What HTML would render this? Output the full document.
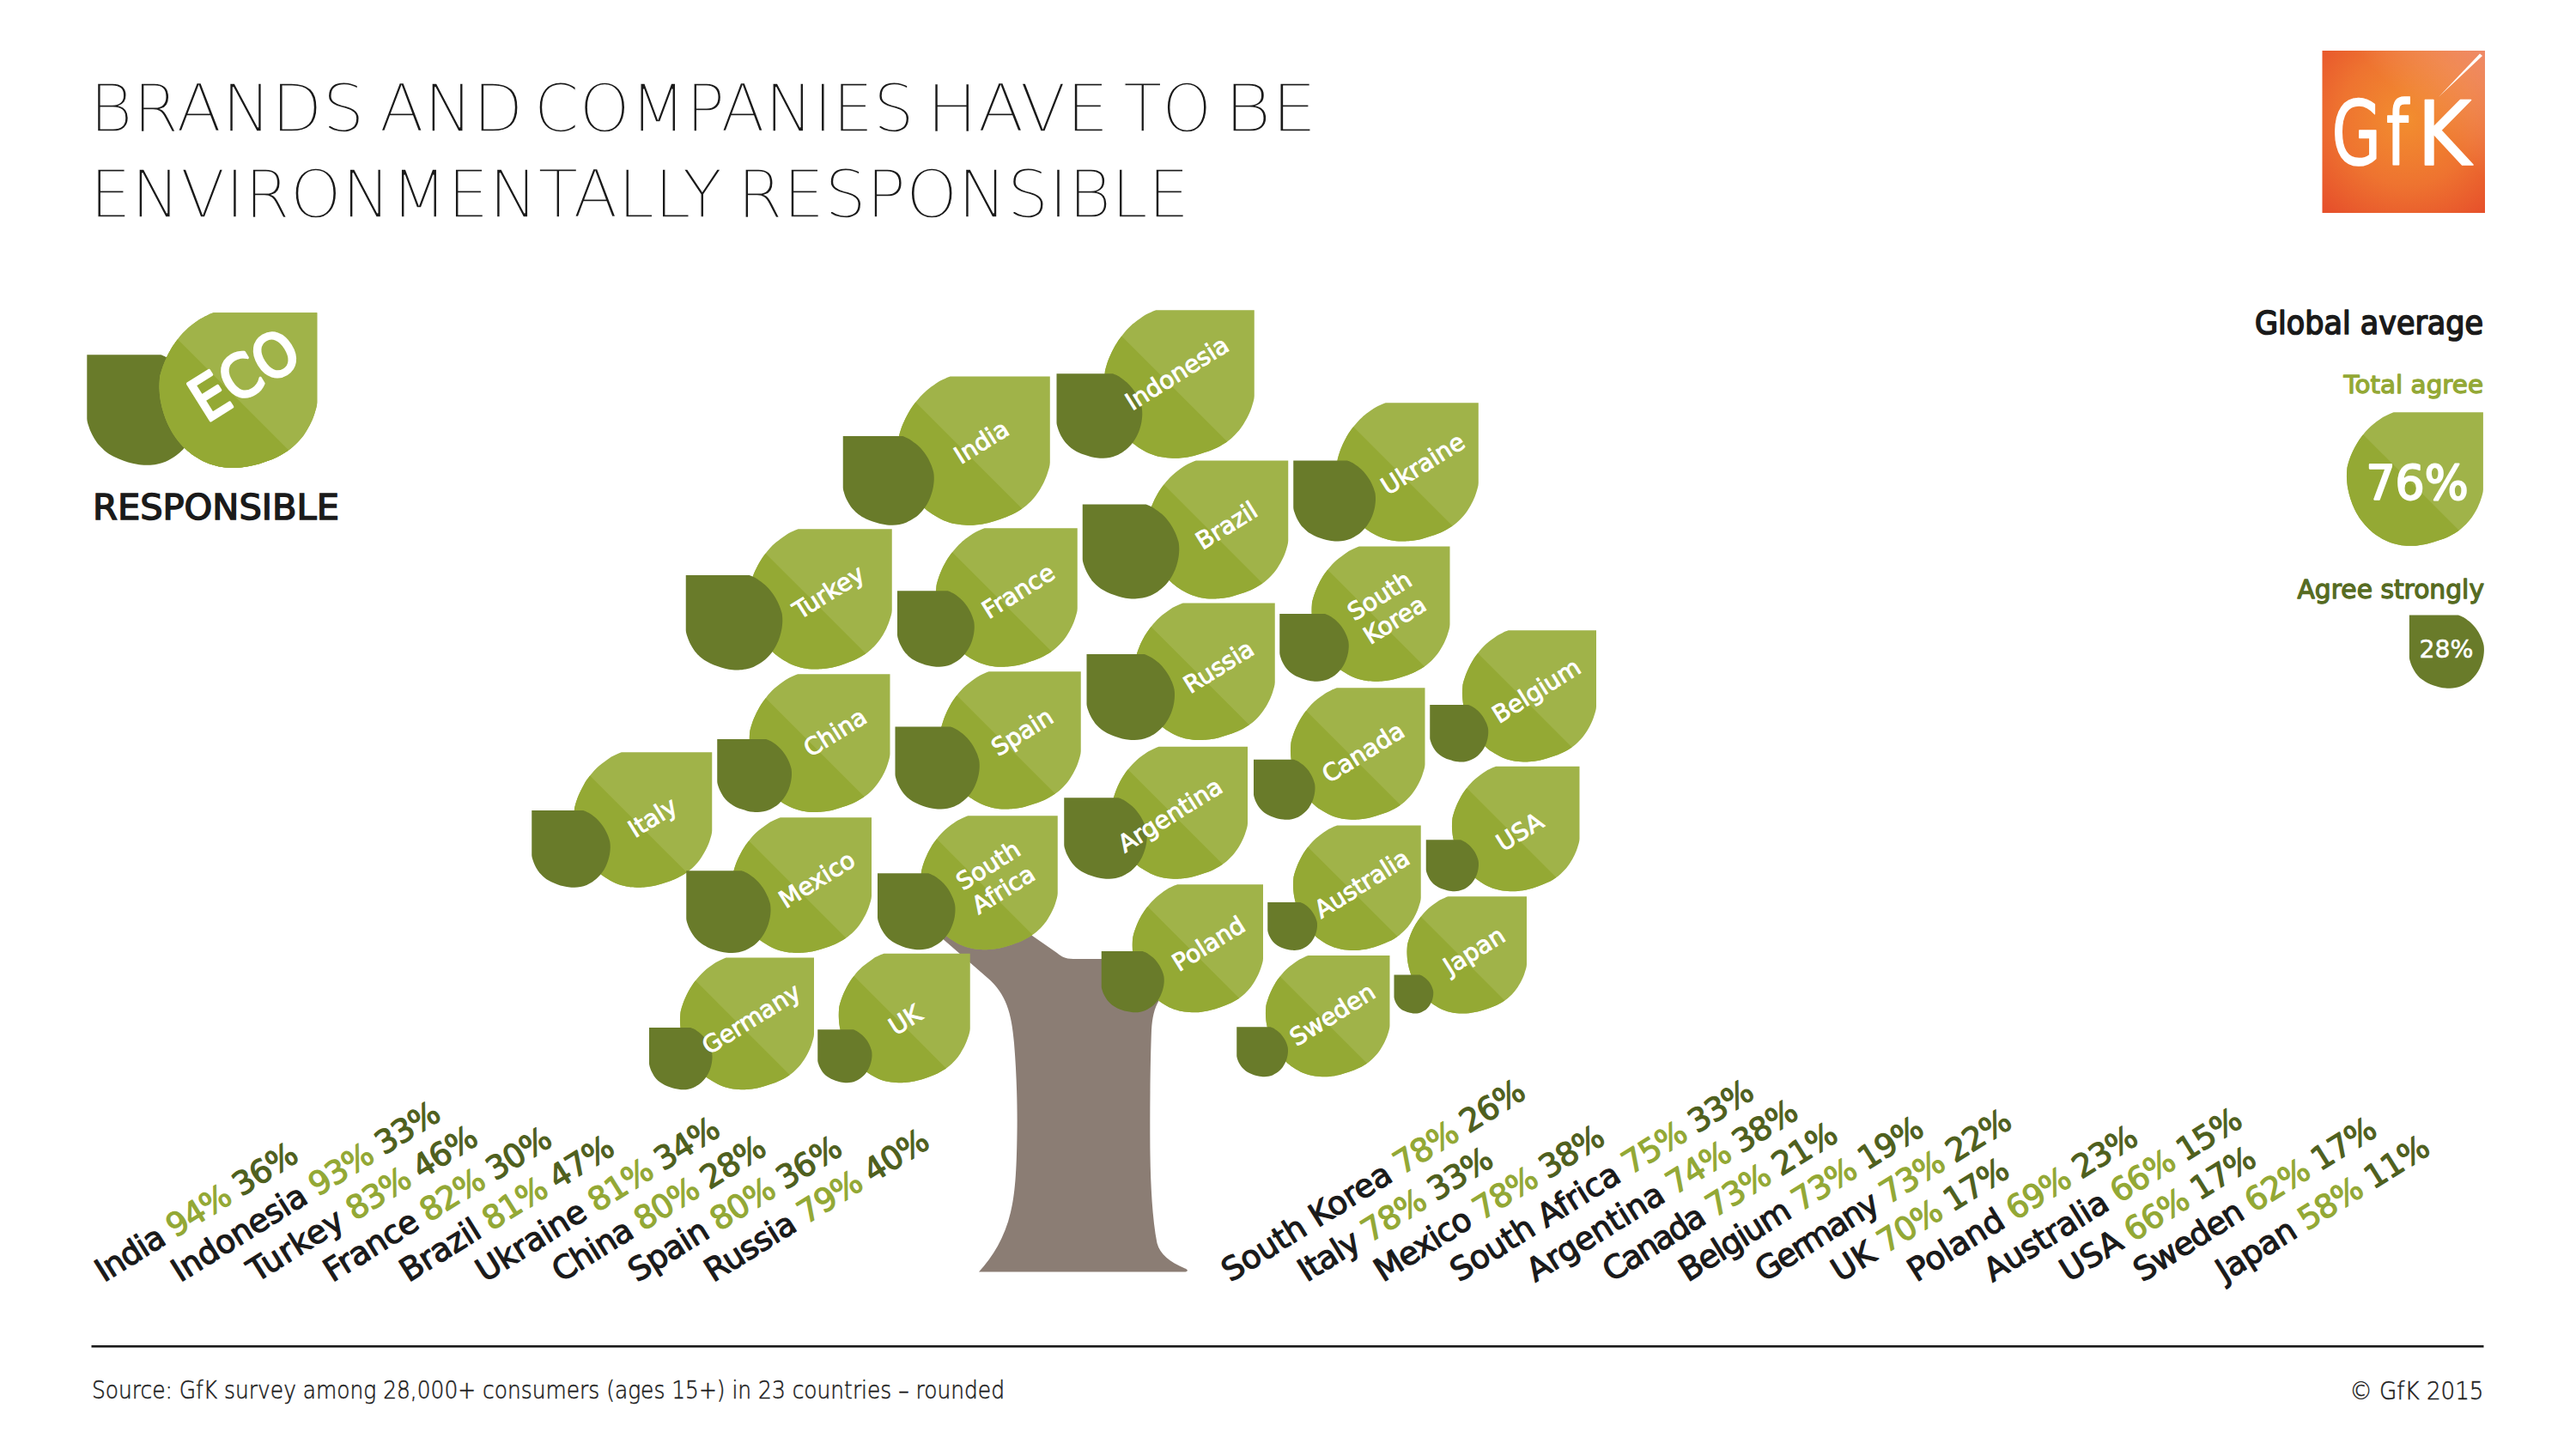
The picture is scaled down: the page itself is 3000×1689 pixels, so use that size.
<!DOCTYPE html>
<html lang="en"><head><meta charset="utf-8"><title>Brands and companies have to be environmentally responsible</title>
<style>html,body{margin:0;padding:0;background:#fff}body{width:3000px;height:1689px;overflow:hidden}svg{display:block}text{font-family:"DejaVu Sans","Liberation Sans",sans-serif}</style></head><body>
<svg width="3000" height="1689" viewBox="0 0 3000 1689">
<defs>
<radialGradient id="lg" cx="0.52" cy="0.42" r="0.75"><stop offset="0" stop-color="#f28e2f"/><stop offset="0.55" stop-color="#ee7330"/><stop offset="1" stop-color="#e6502b"/></radialGradient>
<linearGradient id="lg2" x1="0" y1="1" x2="1" y2="0"><stop offset="0.6" stop-color="#fff" stop-opacity="0"/><stop offset="1" stop-color="#fff" stop-opacity="0.28"/></linearGradient>
<path id="lf" d="M344.0,0 L1000,0 L1000,579.0 C1000.0,602.3 990.6,628.2 984.0,650.0 C977.4,671.8 970.3,689.4 960.6,710.0 C950.9,730.6 937.9,754.3 925.6,773.5 C913.3,792.7 903.0,807.5 886.8,825.3 C870.7,843.2 851.3,863.4 828.7,880.6 C806.1,897.8 777.0,915.1 751.0,928.3 C725.0,941.5 698.9,950.7 673.0,960.0 C647.1,969.3 621.4,977.8 595.5,984.0 C569.6,990.2 541.1,994.8 517.7,997.5 C494.3,1000.2 478.1,1000.9 455.0,1000.0 C431.9,999.1 404.7,997.3 379.0,992.0 C353.3,986.7 327.0,979.3 301.0,968.0 C275.0,956.7 245.8,939.3 223.0,924.0 C200.2,908.7 183.5,895.2 164.0,876.0 C144.5,856.8 123.5,833.5 106.0,809.0 C88.5,784.5 72.0,755.7 59.0,729.0 C45.9,702.3 36.2,675.7 27.7,649.0 C19.2,622.3 12.6,595.5 8.0,569.0 C3.4,542.5 1.0,513.2 0.0,490.0 C-1.0,466.8 0.6,446.3 2.0,430.0 C3.4,413.7 3.5,410.2 8.5,392.0 C13.5,373.8 21.7,346.2 32.2,320.7 C42.7,295.2 57.2,264.3 71.7,239.0 C86.2,213.7 101.2,191.6 119.0,169.0 C136.8,146.4 155.4,124.4 178.5,103.3 C201.6,82.2 237.3,56.5 257.6,42.4 C277.8,28.4 285.6,26.1 300.0,19.0 C314.4,11.9 325.7,5.7 344.0,0.0 Z"/><clipPath id="lc"><use href="#lf"/></clipPath>
</defs>
<rect width="3000" height="1689" fill="#fff"/>
<g font-family='"DejaVu Sans Light","DejaVu Sans","Liberation Sans",sans-serif' font-weight="200" font-size="76" fill="#1a1a1a" stroke="#fff" stroke-width="1.3">
<text y="153.3"><tspan x="104.1" textLength="320.6" lengthAdjust="spacingAndGlyphs">BRANDS</tspan> <tspan x="441.7" textLength="167.8" lengthAdjust="spacingAndGlyphs">AND</tspan> <tspan x="621.8" textLength="443.0" lengthAdjust="spacingAndGlyphs">COMPANIES</tspan> <tspan x="1079.1" textLength="212.4" lengthAdjust="spacingAndGlyphs">HAVE</tspan> <tspan x="1308.3" textLength="102.9" lengthAdjust="spacingAndGlyphs">TO</tspan> <tspan x="1425.4" textLength="108.3" lengthAdjust="spacingAndGlyphs">BE</tspan></text>
<text y="253.3"><tspan x="104.5" textLength="736.6" lengthAdjust="spacingAndGlyphs">ENVIRONMENTALLY</tspan> <tspan x="858.5" textLength="526.7" lengthAdjust="spacingAndGlyphs">RESPONSIBLE</tspan></text>
</g>
<g>
<rect x="2704.5" y="59" width="189.5" height="189" fill="url(#lg)"/>
<rect x="2704.5" y="59" width="189.5" height="189" fill="url(#lg2)"/>
<path d="M2840,113 L2888,62.5 L2891,65 Z" fill="#fff"/>
<text y="191.5" font-size="103" fill="#fff" stroke="#fff" stroke-width="1.6" stroke-linejoin="round"><tspan x="2715.5" textLength="57.5" lengthAdjust="spacingAndGlyphs">G</tspan><tspan x="2779" textLength="26" lengthAdjust="spacingAndGlyphs">f</tspan><tspan x="2815" textLength="63" lengthAdjust="spacingAndGlyphs">K</tspan></text>
</g>
<path fill="#8b7d74" d="M1080,1078 L1150,1139 C1172,1158 1178,1180 1181,1215 C1184,1250 1185,1290 1184.5,1320 C1184,1365 1182,1392 1177,1412 C1170,1442 1156,1464 1140,1481.5 L1379,1481.5 C1384,1481.5 1384,1479 1380,1477.5 C1362,1470 1351,1461 1347.5,1448 C1342,1420 1340,1380 1339.5,1345 C1339,1300 1339.5,1240 1341,1200 C1342,1185 1344,1175 1350,1165 L1350,1117 L1250,1117 C1240,1117 1236,1114 1231,1110 L1195,1085 L1150,1050 Z"/>
<g>
<g transform="translate(1286.25,361.25) scale(0.17450,0.17250)"><use href="#lf" fill="#a0b349"/><path d="M-100,-42.2 L1100,1171.7 L-100,1171.7 Z" fill="#94a934" clip-path="url(#lc)"/></g>
<use href="#lf" fill="#697b2a" transform="translate(1330.25,435.25) scale(-0.09975,0.09850)"/>
<g transform="translate(1370.6,434.4) rotate(-32)" font-size="28" fill="#fff" stroke="#fff" stroke-width="0.95" text-anchor="middle">
<text x="0" y="10.08">Indonesia</text>
</g></g>
<g>
<g transform="translate(1045.80,438.50) scale(0.17700,0.17325)"><use href="#lf" fill="#a0b349"/><path d="M-100,-47.6 L1100,1178.4 L-100,1178.4 Z" fill="#94a934" clip-path="url(#lc)"/></g>
<use href="#lf" fill="#697b2a" transform="translate(1087.75,508.00) scale(-0.10600,0.10375)"/>
<g transform="translate(1142.7,514.6) rotate(-32)" font-size="28" fill="#fff" stroke="#fff" stroke-width="0.95" text-anchor="middle">
<text x="0" y="10.08">India</text>
</g></g>
<g>
<g transform="translate(1557.00,469.25) scale(0.16480,0.16125)"><use href="#lf" fill="#a0b349"/><path d="M-100,-47.8 L1100,1178.6 L-100,1178.6 Z" fill="#94a934" clip-path="url(#lc)"/></g>
<use href="#lf" fill="#697b2a" transform="translate(1602.00,536.50) scale(-0.09575,0.09400)"/>
<g transform="translate(1656.8,540.0) rotate(-32)" font-size="28" fill="#fff" stroke="#fff" stroke-width="0.95" text-anchor="middle">
<text x="0" y="10.08">Ukraine</text>
</g></g>
<g>
<g transform="translate(1336.50,536.50) scale(0.16375,0.16100)"><use href="#lf" fill="#a0b349"/><path d="M-100,-45.2 L1100,1175.3 L-100,1175.3 Z" fill="#94a934" clip-path="url(#lc)"/></g>
<use href="#lf" fill="#697b2a" transform="translate(1373.25,587.50) scale(-0.11250,0.11000)"/>
<g transform="translate(1428.2,611.8) rotate(-32)" font-size="28" fill="#fff" stroke="#fff" stroke-width="0.95" text-anchor="middle">
<text x="0" y="10.08">Brazil</text>
</g></g>
<g>
<g transform="translate(872.50,616.25) scale(0.16625,0.16325)"><use href="#lf" fill="#a0b349"/><path d="M-100,-45.8 L1100,1176.2 L-100,1176.2 Z" fill="#94a934" clip-path="url(#lc)"/></g>
<use href="#lf" fill="#697b2a" transform="translate(911.25,670.00) scale(-0.11250,0.11050)"/>
<g transform="translate(964.7,689.3) rotate(-32)" font-size="28" fill="#fff" stroke="#fff" stroke-width="0.95" text-anchor="middle">
<text x="0" y="10.08">Turkey</text>
</g></g>
<g>
<g transform="translate(1090.00,615.25) scale(0.16475,0.16150)"><use href="#lf" fill="#a0b349"/><path d="M-100,-46.8 L1100,1177.4 L-100,1177.4 Z" fill="#94a934" clip-path="url(#lc)"/></g>
<use href="#lf" fill="#697b2a" transform="translate(1134.75,688.25) scale(-0.08975,0.08850)"/>
<g transform="translate(1185.7,688.3) rotate(-32)" font-size="28" fill="#fff" stroke="#fff" stroke-width="0.95" text-anchor="middle">
<text x="0" y="10.08">France</text>
</g></g>
<g>
<g transform="translate(1527.50,636.50) scale(0.16100,0.15725)"><use href="#lf" fill="#a0b349"/><path d="M-100,-48.8 L1100,1179.8 L-100,1179.8 Z" fill="#94a934" clip-path="url(#lc)"/></g>
<use href="#lf" fill="#697b2a" transform="translate(1570.75,715.00) scale(-0.08050,0.07875)"/>
<g transform="translate(1615.2,707.7) rotate(-32)" font-size="28" fill="#fff" stroke="#fff" stroke-width="0.95" text-anchor="middle">
<text x="0" y="-6.42">South</text>
<text x="0" y="26.58">Korea</text>
</g></g>
<g>
<g transform="translate(1321.50,702.50) scale(0.16325,0.15950)"><use href="#lf" fill="#a0b349"/><path d="M-100,-48.6 L1100,1179.6 L-100,1179.6 Z" fill="#94a934" clip-path="url(#lc)"/></g>
<use href="#lf" fill="#697b2a" transform="translate(1368.00,762.00) scale(-0.10250,0.10000)"/>
<g transform="translate(1419.0,776.1) rotate(-32)" font-size="28" fill="#fff" stroke="#fff" stroke-width="0.95" text-anchor="middle">
<text x="0" y="10.08">Russia</text>
</g></g>
<g>
<g transform="translate(1703.00,734.25) scale(0.15600,0.15325)"><use href="#lf" fill="#a0b349"/><path d="M-100,-45.6 L1100,1175.9 L-100,1175.9 Z" fill="#94a934" clip-path="url(#lc)"/></g>
<use href="#lf" fill="#697b2a" transform="translate(1733.25,821.00) scale(-0.06800,0.06650)"/>
<g transform="translate(1789.0,804.2) rotate(-32)" font-size="28" fill="#fff" stroke="#fff" stroke-width="0.95" text-anchor="middle">
<text x="0" y="10.08">Belgium</text>
</g></g>
<g>
<g transform="translate(872.75,785.25) scale(0.16375,0.16075)"><use href="#lf" fill="#a0b349"/><path d="M-100,-46.0 L1100,1176.4 L-100,1176.4 Z" fill="#94a934" clip-path="url(#lc)"/></g>
<use href="#lf" fill="#697b2a" transform="translate(922.00,861.00) scale(-0.08675,0.08500)"/>
<g transform="translate(972.3,852.8) rotate(-32)" font-size="28" fill="#fff" stroke="#fff" stroke-width="0.95" text-anchor="middle">
<text x="0" y="10.08">China</text>
</g></g>
<g>
<g transform="translate(1095.40,782.25) scale(0.16335,0.16025)"><use href="#lf" fill="#a0b349"/><path d="M-100,-46.4 L1100,1176.8 L-100,1176.8 Z" fill="#94a934" clip-path="url(#lc)"/></g>
<use href="#lf" fill="#697b2a" transform="translate(1140.75,846.50) scale(-0.09825,0.09600)"/>
<g transform="translate(1190.2,852.3) rotate(-32)" font-size="28" fill="#fff" stroke="#fff" stroke-width="0.95" text-anchor="middle">
<text x="0" y="10.08">Spain</text>
</g></g>
<g>
<g transform="translate(1503.00,801.25) scale(0.15650,0.15350)"><use href="#lf" fill="#a0b349"/><path d="M-100,-46.5 L1100,1177.0 L-100,1177.0 Z" fill="#94a934" clip-path="url(#lc)"/></g>
<use href="#lf" fill="#697b2a" transform="translate(1531.50,884.75) scale(-0.07150,0.07000)"/>
<g transform="translate(1587.2,876.0) rotate(-32)" font-size="28" fill="#fff" stroke="#fff" stroke-width="0.95" text-anchor="middle">
<text x="0" y="10.08">Canada</text>
</g></g>
<g>
<g transform="translate(668.50,876.25) scale(0.16075,0.15750)"><use href="#lf" fill="#a0b349"/><path d="M-100,-47.1 L1100,1177.7 L-100,1177.7 Z" fill="#94a934" clip-path="url(#lc)"/></g>
<use href="#lf" fill="#697b2a" transform="translate(710.75,944.00) scale(-0.09150,0.08975)"/>
<g transform="translate(759.8,951.8) rotate(-32)" font-size="28" fill="#fff" stroke="#fff" stroke-width="0.95" text-anchor="middle">
<text x="0" y="10.08">Italy</text>
</g></g>
<g>
<g transform="translate(1295.25,869.75) scale(0.15775,0.15400)"><use href="#lf" fill="#a0b349"/><path d="M-100,-49.1 L1100,1180.2 L-100,1180.2 Z" fill="#94a934" clip-path="url(#lc)"/></g>
<use href="#lf" fill="#697b2a" transform="translate(1335.75,929.25) scale(-0.09650,0.09450)"/>
<g transform="translate(1362.5,949.0) rotate(-32)" font-size="28" fill="#fff" stroke="#fff" stroke-width="0.95" text-anchor="middle">
<text x="0" y="10.08">Argentina</text>
</g></g>
<g>
<g transform="translate(1691.00,892.75) scale(0.14850,0.14550)"><use href="#lf" fill="#a0b349"/><path d="M-100,-47.1 L1100,1177.7 L-100,1177.7 Z" fill="#94a934" clip-path="url(#lc)"/></g>
<use href="#lf" fill="#697b2a" transform="translate(1722.00,978.25) scale(-0.06125,0.06000)"/>
<g transform="translate(1769.8,968.6) rotate(-32)" font-size="28" fill="#fff" stroke="#fff" stroke-width="0.95" text-anchor="middle">
<text x="0" y="10.08">USA</text>
</g></g>
<g>
<g transform="translate(853.20,952.25) scale(0.16180,0.15775)"><use href="#lf" fill="#a0b349"/><path d="M-100,-49.8 L1100,1181.0 L-100,1181.0 Z" fill="#94a934" clip-path="url(#lc)"/></g>
<use href="#lf" fill="#697b2a" transform="translate(897.50,1014.25) scale(-0.09825,0.09575)"/>
<g transform="translate(951.2,1024.2) rotate(-32)" font-size="28" fill="#fff" stroke="#fff" stroke-width="0.95" text-anchor="middle">
<text x="0" y="10.08">Mexico</text>
</g></g>
<g>
<g transform="translate(1072.50,950.25) scale(0.15925,0.15600)"><use href="#lf" fill="#a0b349"/><path d="M-100,-47.2 L1100,1177.8 L-100,1177.8 Z" fill="#94a934" clip-path="url(#lc)"/></g>
<use href="#lf" fill="#697b2a" transform="translate(1112.50,1017.25) scale(-0.09050,0.08900)"/>
<g transform="translate(1159.5,1021.7) rotate(-32)" font-size="28" fill="#fff" stroke="#fff" stroke-width="0.95" text-anchor="middle">
<text x="0" y="-6.42">South</text>
<text x="0" y="26.58">Africa</text>
</g></g>
<g>
<g transform="translate(1506.00,961.50) scale(0.14875,0.14550)"><use href="#lf" fill="#a0b349"/><path d="M-100,-48.0 L1100,1178.8 L-100,1178.8 Z" fill="#94a934" clip-path="url(#lc)"/></g>
<use href="#lf" fill="#697b2a" transform="translate(1534.00,1051.00) scale(-0.05775,0.05600)"/>
<g transform="translate(1586.0,1029.0) rotate(-32)" font-size="28" fill="#fff" stroke="#fff" stroke-width="0.95" text-anchor="middle">
<text x="0" y="10.08">Australia</text>
</g></g>
<g>
<g transform="translate(1318.75,1030.25) scale(0.15225,0.14900)"><use href="#lf" fill="#a0b349"/><path d="M-100,-47.7 L1100,1178.5 L-100,1178.5 Z" fill="#94a934" clip-path="url(#lc)"/></g>
<use href="#lf" fill="#697b2a" transform="translate(1355.75,1108.00) scale(-0.07300,0.07125)"/>
<g transform="translate(1407.4,1099.0) rotate(-32)" font-size="28" fill="#fff" stroke="#fff" stroke-width="0.95" text-anchor="middle">
<text x="0" y="10.08">Poland</text>
</g></g>
<g>
<g transform="translate(1638.50,1044.25) scale(0.13950,0.13625)"><use href="#lf" fill="#a0b349"/><path d="M-100,-48.8 L1100,1179.8 L-100,1179.8 Z" fill="#94a934" clip-path="url(#lc)"/></g>
<use href="#lf" fill="#697b2a" transform="translate(1669.25,1135.50) scale(-0.04575,0.04500)"/>
<g transform="translate(1716.5,1107.0) rotate(-32)" font-size="28" fill="#fff" stroke="#fff" stroke-width="0.95" text-anchor="middle">
<text x="0" y="10.08">Japan</text>
</g></g>
<g>
<g transform="translate(792.00,1115.50) scale(0.15600,0.15375)"><use href="#lf" fill="#a0b349"/><path d="M-100,-43.8 L1100,1173.7 L-100,1173.7 Z" fill="#94a934" clip-path="url(#lc)"/></g>
<use href="#lf" fill="#697b2a" transform="translate(829.50,1197.00) scale(-0.07350,0.07225)"/>
<g transform="translate(874.6,1186.4) rotate(-32)" font-size="28" fill="#fff" stroke="#fff" stroke-width="0.95" text-anchor="middle">
<text x="0" y="10.08">Germany</text>
</g></g>
<g>
<g transform="translate(976.75,1110.75) scale(0.15300,0.15050)"><use href="#lf" fill="#a0b349"/><path d="M-100,-44.9 L1100,1175.0 L-100,1175.0 Z" fill="#94a934" clip-path="url(#lc)"/></g>
<use href="#lf" fill="#697b2a" transform="translate(1015.50,1199.25) scale(-0.06325,0.06200)"/>
<g transform="translate(1054.0,1187.8) rotate(-32)" font-size="28" fill="#fff" stroke="#fff" stroke-width="0.95" text-anchor="middle">
<text x="0" y="10.08">UK</text>
</g></g>
<g>
<g transform="translate(1474.00,1113.00) scale(0.14450,0.14125)"><use href="#lf" fill="#a0b349"/><path d="M-100,-48.3 L1100,1179.3 L-100,1179.3 Z" fill="#94a934" clip-path="url(#lc)"/></g>
<use href="#lf" fill="#697b2a" transform="translate(1500.00,1196.25) scale(-0.05975,0.05800)"/>
<g transform="translate(1551.5,1181.4) rotate(-32)" font-size="28" fill="#fff" stroke="#fff" stroke-width="0.95" text-anchor="middle">
<text x="0" y="10.08">Sweden</text>
</g></g>
<g>
<g transform="translate(185.50,364.20) scale(0.18380,0.18070)"><use href="#lf" fill="#a0b349"/><path d="M-100,-49.4 L1100,1171.2 L-100,1171.2 Z" fill="#94a934" clip-path="url(#lc)"/></g>
<use href="#lf" fill="#697b2a" transform="translate(232.30,413.30) scale(-0.13100,0.12850)"/>
<g transform="translate(185.50,364.20) scale(0.18380,0.18070)"><use href="#lf" fill="#a0b349"/><path d="M-100,-49.4 L1100,1171.2 L-100,1171.2 Z" fill="#94a934" clip-path="url(#lc)"/></g>
<g transform="translate(284,436) rotate(-32)"><text x="0" y="25" font-size="69" fill="#fff" stroke="#fff" stroke-width="3.4" stroke-linejoin="round" text-anchor="middle" textLength="135" lengthAdjust="spacingAndGlyphs">ECO</text></g>
<text x="108" y="605.3" font-size="40.5" fill="#1a1a1a" stroke="#1a1a1a" stroke-width="1.5" textLength="287" lengthAdjust="spacingAndGlyphs">RESPONSIBLE</text>
</g>
<g>
<text x="2892" y="389" text-anchor="end" font-size="37.7" fill="#1a1a1a" stroke="#1a1a1a" stroke-width="1.7" stroke-linejoin="round" textLength="266" lengthAdjust="spacingAndGlyphs">Global average</text>
<text x="2892" y="458.2" text-anchor="end" font-size="29" fill="#93a835" stroke="#93a835" stroke-width="1.3" stroke-linejoin="round" textLength="162.5" lengthAdjust="spacingAndGlyphs">Total agree</text>
<g transform="translate(2733.00,480.20) scale(0.15890,0.15560)"><use href="#lf" fill="#a0b349"/><path d="M-100,-58.1 L1100,1167.4 L-100,1167.4 Z" fill="#94a934" clip-path="url(#lc)"/></g>
<text x="2815" y="581" text-anchor="middle" font-size="56" fill="#fff" stroke="#fff" stroke-width="2.2" stroke-linejoin="round" textLength="119" lengthAdjust="spacingAndGlyphs">76%</text>
<text x="2893" y="696.9" text-anchor="end" font-size="30" fill="#566b22" stroke="#566b22" stroke-width="1.3" stroke-linejoin="round" textLength="217.5" lengthAdjust="spacingAndGlyphs">Agree strongly</text>
<use href="#lf" fill="#697b2a" transform="translate(2892.90,716.40) scale(-0.08700,0.08540)"/>
<text x="2849" y="766.4" text-anchor="middle" font-size="28.5" fill="#fff" stroke="#fff" stroke-width="0.5" textLength="63" lengthAdjust="spacingAndGlyphs">28%</text>
</g>
<g font-size="37.5" stroke-width="1.2" stroke-linejoin="round">
<text transform="translate(121.0,1494.3) rotate(-32)" letter-spacing="-1.05" fill="#1a1a1a" stroke="#1a1a1a"><tspan letter-spacing="-1.05">India</tspan> <tspan fill="#93a835" stroke="#93a835">94%</tspan> <tspan fill="#4f601e" stroke="#4f601e">36%</tspan></text>
<text transform="translate(209.7,1494.3) rotate(-32)" letter-spacing="-1.05" fill="#1a1a1a" stroke="#1a1a1a"><tspan letter-spacing="-0.40">Indonesia</tspan> <tspan fill="#93a835" stroke="#93a835">93%</tspan> <tspan fill="#4f601e" stroke="#4f601e">33%</tspan></text>
<text transform="translate(298.4,1494.3) rotate(-32)" letter-spacing="-1.05" fill="#1a1a1a" stroke="#1a1a1a"><tspan letter-spacing="0.40">Turkey</tspan> <tspan fill="#93a835" stroke="#93a835">83%</tspan> <tspan fill="#4f601e" stroke="#4f601e">46%</tspan></text>
<text transform="translate(387.1,1494.3) rotate(-32)" letter-spacing="-1.05" fill="#1a1a1a" stroke="#1a1a1a"><tspan letter-spacing="-0.55">France</tspan> <tspan fill="#93a835" stroke="#93a835">82%</tspan> <tspan fill="#4f601e" stroke="#4f601e">30%</tspan></text>
<text transform="translate(475.8,1494.3) rotate(-32)" letter-spacing="-1.05" fill="#1a1a1a" stroke="#1a1a1a"><tspan letter-spacing="-0.35">Brazil</tspan> <tspan fill="#93a835" stroke="#93a835">81%</tspan> <tspan fill="#4f601e" stroke="#4f601e">47%</tspan></text>
<text transform="translate(564.5,1494.3) rotate(-32)" letter-spacing="-1.05" fill="#1a1a1a" stroke="#1a1a1a"><tspan letter-spacing="-0.25">Ukraine</tspan> <tspan fill="#93a835" stroke="#93a835">81%</tspan> <tspan fill="#4f601e" stroke="#4f601e">34%</tspan></text>
<text transform="translate(653.2,1494.3) rotate(-32)" letter-spacing="-1.05" fill="#1a1a1a" stroke="#1a1a1a"><tspan letter-spacing="-1.05">China</tspan> <tspan fill="#93a835" stroke="#93a835">80%</tspan> <tspan fill="#4f601e" stroke="#4f601e">28%</tspan></text>
<text transform="translate(741.9,1494.3) rotate(-32)" letter-spacing="-1.05" fill="#1a1a1a" stroke="#1a1a1a"><tspan letter-spacing="-0.65">Spain</tspan> <tspan fill="#93a835" stroke="#93a835">80%</tspan> <tspan fill="#4f601e" stroke="#4f601e">36%</tspan></text>
<text transform="translate(830.6,1494.3) rotate(-32)" letter-spacing="-1.05" fill="#1a1a1a" stroke="#1a1a1a"><tspan letter-spacing="-0.65">Russia</tspan> <tspan fill="#93a835" stroke="#93a835">79%</tspan> <tspan fill="#4f601e" stroke="#4f601e">40%</tspan></text>
<text transform="translate(1433.0,1494.0) rotate(-32)" letter-spacing="-1.05" fill="#1a1a1a" stroke="#1a1a1a"><tspan letter-spacing="-0.20">South Korea</tspan> <tspan fill="#93a835" stroke="#93a835">78%</tspan> <tspan fill="#4f601e" stroke="#4f601e">26%</tspan></text>
<text transform="translate(1521.8,1494.0) rotate(-32)" letter-spacing="-1.05" fill="#1a1a1a" stroke="#1a1a1a"><tspan letter-spacing="-1.05">Italy</tspan> <tspan fill="#93a835" stroke="#93a835">78%</tspan> <tspan fill="#4f601e" stroke="#4f601e">33%</tspan></text>
<text transform="translate(1610.5,1494.0) rotate(-32)" letter-spacing="-1.05" fill="#1a1a1a" stroke="#1a1a1a"><tspan letter-spacing="-1.05">Mexico</tspan> <tspan fill="#93a835" stroke="#93a835">78%</tspan> <tspan fill="#4f601e" stroke="#4f601e">38%</tspan></text>
<text transform="translate(1699.2,1494.0) rotate(-32)" letter-spacing="-1.05" fill="#1a1a1a" stroke="#1a1a1a"><tspan letter-spacing="-0.25">South Africa</tspan> <tspan fill="#93a835" stroke="#93a835">75%</tspan> <tspan fill="#4f601e" stroke="#4f601e">33%</tspan></text>
<text transform="translate(1788.0,1494.0) rotate(-32)" letter-spacing="-1.05" fill="#1a1a1a" stroke="#1a1a1a"><tspan letter-spacing="-0.25">Argentina</tspan> <tspan fill="#93a835" stroke="#93a835">74%</tspan> <tspan fill="#4f601e" stroke="#4f601e">38%</tspan></text>
<text transform="translate(1876.8,1494.0) rotate(-32)" letter-spacing="-1.05" fill="#1a1a1a" stroke="#1a1a1a"><tspan letter-spacing="-2.00">Canada</tspan> <tspan fill="#93a835" stroke="#93a835">73%</tspan> <tspan fill="#4f601e" stroke="#4f601e">21%</tspan></text>
<text transform="translate(1965.5,1494.0) rotate(-32)" letter-spacing="-1.05" fill="#1a1a1a" stroke="#1a1a1a"><tspan letter-spacing="-1.40">Belgium</tspan> <tspan fill="#93a835" stroke="#93a835">73%</tspan> <tspan fill="#4f601e" stroke="#4f601e">19%</tspan></text>
<text transform="translate(2054.2,1494.0) rotate(-32)" letter-spacing="-1.05" fill="#1a1a1a" stroke="#1a1a1a"><tspan letter-spacing="-1.75">Germany</tspan> <tspan fill="#93a835" stroke="#93a835">73%</tspan> <tspan fill="#4f601e" stroke="#4f601e">22%</tspan></text>
<text transform="translate(2143.0,1494.0) rotate(-32)" letter-spacing="-1.05" fill="#1a1a1a" stroke="#1a1a1a"><tspan letter-spacing="0.15">UK</tspan> <tspan fill="#93a835" stroke="#93a835">70%</tspan> <tspan fill="#4f601e" stroke="#4f601e">17%</tspan></text>
<text transform="translate(2231.8,1494.0) rotate(-32)" letter-spacing="-1.05" fill="#1a1a1a" stroke="#1a1a1a"><tspan letter-spacing="-0.15">Poland</tspan> <tspan fill="#93a835" stroke="#93a835">69%</tspan> <tspan fill="#4f601e" stroke="#4f601e">23%</tspan></text>
<text transform="translate(2320.5,1494.0) rotate(-32)" letter-spacing="-1.05" fill="#1a1a1a" stroke="#1a1a1a"><tspan letter-spacing="-0.35">Australia</tspan> <tspan fill="#93a835" stroke="#93a835">66%</tspan> <tspan fill="#4f601e" stroke="#4f601e">15%</tspan></text>
<text transform="translate(2409.2,1494.0) rotate(-32)" letter-spacing="-1.05" fill="#1a1a1a" stroke="#1a1a1a"><tspan letter-spacing="-0.05">USA</tspan> <tspan fill="#93a835" stroke="#93a835">66%</tspan> <tspan fill="#4f601e" stroke="#4f601e">17%</tspan></text>
<text transform="translate(2495.0,1494.0) rotate(-32)" letter-spacing="-1.05" fill="#1a1a1a" stroke="#1a1a1a"><tspan letter-spacing="-1.05">Sweden</tspan> <tspan fill="#93a835" stroke="#93a835">62%</tspan> <tspan fill="#4f601e" stroke="#4f601e">17%</tspan></text>
<text transform="translate(2590.8,1494.0) rotate(-32)" letter-spacing="-1.05" fill="#1a1a1a" stroke="#1a1a1a"><tspan letter-spacing="-0.55">Japan</tspan> <tspan fill="#93a835" stroke="#93a835">58%</tspan> <tspan fill="#4f601e" stroke="#4f601e">11%</tspan></text>
</g>
<rect x="106.5" y="1567" width="2786" height="2.6" fill="#1a1a1a"/>
<g font-family='"DejaVu Sans Light","DejaVu Sans","Liberation Sans",sans-serif' font-weight="200" font-size="28" fill="#1a1a1a" stroke="#1a1a1a" stroke-width="0.5">
<text x="107" y="1629.4" textLength="1063" lengthAdjust="spacingAndGlyphs">Source: GfK survey among 28,000+ consumers (ages 15+) in 23 countries – rounded</text>
<text x="2892.5" y="1629.7" text-anchor="end" textLength="156" lengthAdjust="spacingAndGlyphs">© GfK 2015</text>
</g>
</svg></body></html>
